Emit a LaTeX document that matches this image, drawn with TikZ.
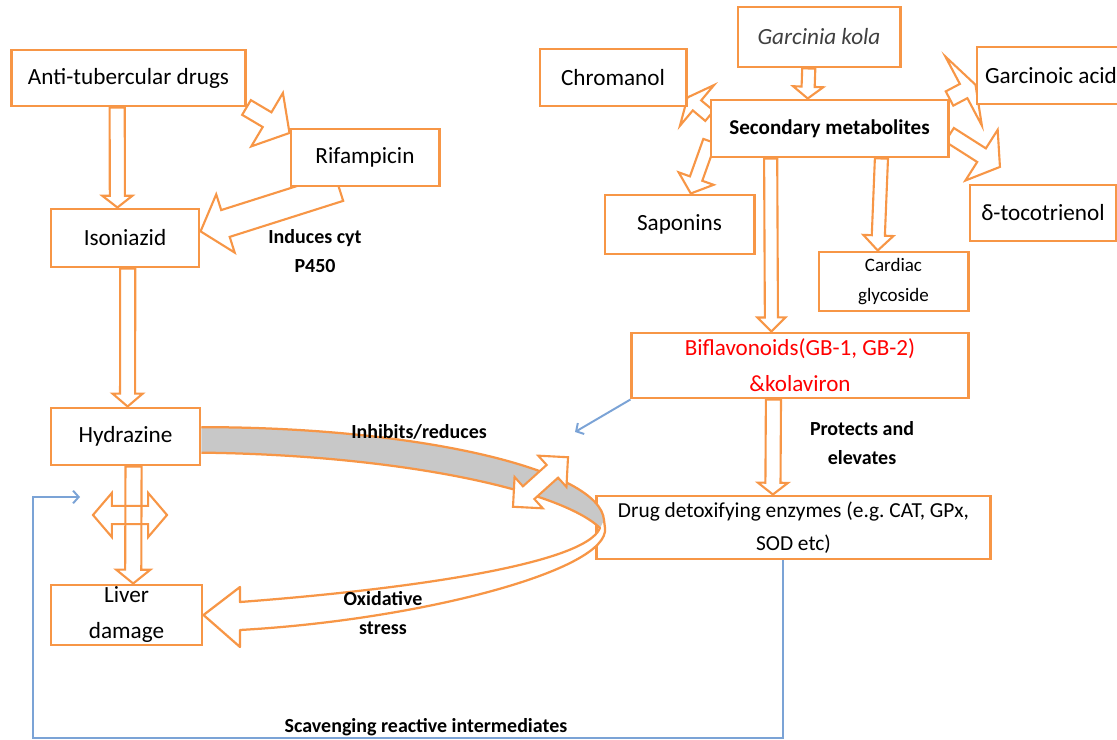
\documentclass[tikz,border=0pt]{standalone}
\usepackage{fontspec}
\setmainfont{Carlito}
\usetikzlibrary{shapes.arrows,arrows.meta,calc,backgrounds}
\definecolor{boxorange}{HTML}{F79646}
\definecolor{bandgray}{HTML}{C8C8C8}
\definecolor{linkblue}{HTML}{7BA3D6}

\begin{document}
\begin{tikzpicture}[x=0.025cm, y=-0.025cm,
        box/.style={draw=boxorange, line width=2.1pt, fill=white, inner sep=0pt, align=center, font=\fontsize{16.5}{20}\selectfont},
        blockarrow/.style={single arrow, draw=boxorange, fill=white, line width=1.5pt, outer sep=0pt},
        swaparrow/.style={double arrow, draw=boxorange, line width=1.5pt, outer sep=0pt},
        bandline/.style={draw=boxorange, line width=1.6pt, line join=round},
        tag/.style={align=center, font=\fontsize{14.2}{21}\selectfont\bfseries},
        link/.style={draw=linkblue, line width=1.4pt, -{Straight Barb[length=4pt,width=9pt]}}]
        \useasboundingbox (0,0) rectangle (1117,740);

        % drugs side
        \node[box, minimum width=5.825cm, minimum height=1.4cm] (anti) at (128.5,78) {Anti-tubercular drugs};
        \node[box, minimum width=3.7cm, minimum height=1.425cm] (rif) at (365,157.5) {Rifampicin};
        \node[box, minimum width=3.7cm, minimum height=1.45cm] (iso) at (125,238) {Isoniazid};
        \node[box, minimum width=3.725cm, minimum height=1.425cm] (hyd) at (125.5,436.5) {Hydrazine};
        \node[box, minimum width=3.775cm, minimum height=1.5cm, font=\fontsize{16.5}{25.6}\selectfont] (liver) at (126.5,615) {Liver\\damage};

        % plant side
        \node[box, minimum width=4.05cm, minimum height=1.5cm, text=black!75, font=\fontsize{16.5}{20}\selectfont\itshape] (gk) at (819,37) {Garcinia kola};
        \node[box, minimum width=3.65cm, minimum height=1.425cm] (chrom) at (613,77.5) {Chromanol};
        \node[box, minimum width=5.925cm, minimum height=1.425cm, font=\fontsize{15}{18}\selectfont\bfseries] (sec) at (829.5,128.5) {Secondary metabolites};
        \node[box, minimum width=3.7cm, minimum height=1.425cm] (garc) at (1051,75.5) {Garcinoic acid};
        \node[box, minimum width=3.65cm, minimum height=1.4cm] (toco) at (1043,213) {δ-tocotrienol};
        \node[box, minimum width=3.725cm, minimum height=1.475cm] (sap) at (679.5,224.5) {Saponins};
        \node[box, minimum width=3.725cm, minimum height=1.475cm, font=\fontsize{13.5}{21.3}\selectfont] (card) at (893.5,281.5) {Cardiac\\glycoside};
        \node[box, minimum width=8.4cm, minimum height=1.625cm, text=red, font=\fontsize{16.4}{25.6}\selectfont] (bifla) at (800,365.5) {Biflavonoids(GB-1, GB-2)\\\&kolaviron};
        \node[box, minimum width=9.825cm, minimum height=1.575cm, font=\fontsize{15.2}{23.5}\selectfont] (detox) at (793.5,527.5) {Drug detoxifying enzymes (e.g.\ CAT, GPx,\\SOD etc)};

        \coordinate (tocotip) at ($(sec.-3)!.66!(toco.120)$);

        \begin{pgfonlayer}{background}
        \foreach \src/\dst/\sw/\hx/\ta in {anti.-111/iso.104/13/7.5/104, anti.south east/rif.162/15/22.5/100,
                rif.-131/iso.5/26/16.5/99, iso.-85/hyd.86/13/7.5/99, hyd.-75/liver.78/14/9/102,
                gk.-108/sec.126/11/8.5/104, sec.174/chrom.-15/11/20/130, sec.-174/sap.70/11/12/99,
                sec.-153/bifla.130/11/7.5/90, sec.-30/card.117/11/8.5/90, sec.north east/garc.-173/14/31/142,
                sec.-3/tocotip/14/22/108, bifla.-128/detox.122/13/7.5/104}
            \path let \p1=(\src), \p2=(\dst), \p3=($(\p2)-(\p1)$) in
                node[blockarrow, anchor=tail, inner sep={\sw*0.3557pt}, single arrow head extend={\hx*0.7113pt},
                    single arrow tip angle=\ta, minimum height={veclen(\x3,\y3)}, rotate={atan2(\y3,\x3)}] at (\p1) {};

        \node[swaparrow, minimum height=1.85cm, inner sep=0.2cm, double arrow head extend=0.325cm, double arrow tip angle=99] (swap) at (130,515) {};
        \end{pgfonlayer}

        % curved ribbon from hydrazine round to liver damage
        \fill[white] (hyd.7) .. controls (420,427) and (600,470) .. (604,520) -- (605,528)
            .. controls (610,570) and (420,620) .. (240,630) -- (240,647) -- (liver.east) -- (240,587) -- (240,602)
            .. controls (400,590) and (585,565) .. (600,528) .. controls (560,490) and (400,455) .. (hyd.-12) -- cycle;
        \fill[bandgray] (hyd.7) .. controls (420,427) and (600,470) .. (604,520) -- (600,528) .. controls (560,490) and (400,455) .. (hyd.-12) -- cycle;
        \draw[bandline] (hyd.7) .. controls (420,427) and (600,470) .. (604,520) -- (605,528)
            .. controls (610,570) and (420,620) .. (240,630) -- (240,647) -- (liver.east) -- (240,587) -- (240,602)
            .. controls (400,590) and (585,565) .. (600,528) .. controls (560,490) and (400,455) .. (hyd.-12);
        \node[swaparrow, fill=white, minimum height=1.85cm, inner sep=0.1875cm, double arrow head extend=0.3125cm, double arrow tip angle=90, rotate=42] (twist) at (540.5,482) {};

        \node[tag] (induces) at (315,251) {Induces cyt\\P450};
        \node[tag] (inhibits) at (419,432) {Inhibits/reduces};
        \node[tag] (oxid) at (383,613) {Oxidative\\stress};
        \node[tag] (protects) at (862,443) {Protects and\\elevates};
        \node[tag] (scav) at (426,727) {Scavenging reactive intermediates};

        \coordinate (aim) at (575,432);
        \coordinate (corner) at (33,738);
        \coordinate (back) at (80,497);
        \draw[link] (bifla.south west) -- (aim);
        \draw[link] (detox.-108) |- (corner) |- (back);
\end{tikzpicture}
\end{document}
